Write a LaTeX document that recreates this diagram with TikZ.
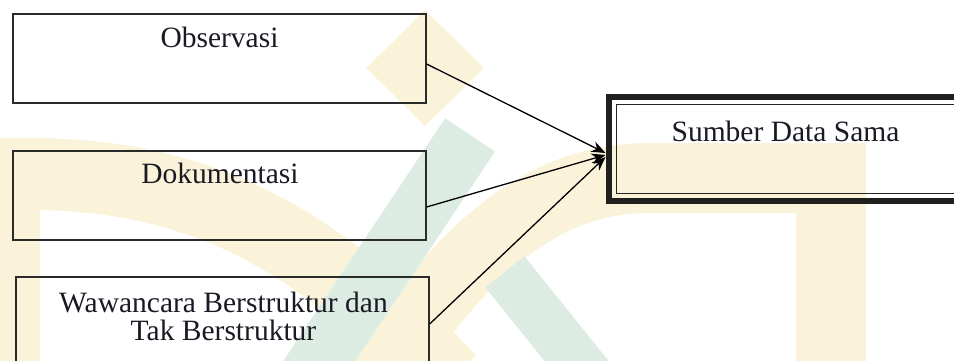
\documentclass[tikz,border=0pt]{standalone}
\usepackage{fontspec}
\setmainfont{Liberation Serif}
\usetikzlibrary{arrows.meta}
\definecolor{wmyellow}{HTML}{FAF3DA}
\definecolor{wmgreen}{HTML}{DDECE3}
\definecolor{boxline}{HTML}{2A2A2A}
\definecolor{txt}{HTML}{1A1A24}
\tikzset{
  srcbox/.style={draw=boxline, line width=1.3pt, rectangle, minimum width=413pt, minimum height=89pt, inner sep=0pt},
  lbl/.style={font=\fontsize{29.5}{28}\selectfont, text=txt, anchor=base, align=center, inner sep=0pt},
  conn/.style={line width=1.3pt, -{Stealth[length=14pt,width=11pt]}},
  wm/.style={line cap=butt, line join=miter}
}
\begin{document}
\begin{tikzpicture}[x=1pt,y=-1pt]
\useasboundingbox (0,0) rectangle (954,361);
\clip (0,0) rectangle (954,361);
\fill[white] (0,0) rectangle (954,361);
% watermark
\fill[wmyellow] (425,10) -- (484,68) -- (425,126) -- (366,68) -- cycle;
\draw[wm, wmyellow, line width=72pt] (4,420) -- (4,174) .. controls (180,170) and (300,220) .. (450,380);
\draw[wm, wmyellow, line width=70pt] (831,420) -- (831,178) -- (650,178) .. controls (540,178) and (460,250) .. (370,390);
\draw[wm, wmgreen, line width=60pt] (300,390) -- (470,135);
\draw[wm, wmgreen, line width=50pt] (505,272) -- (600,390);
% boxes
\node[srcbox] (obs) at (219.5,58.5) {};
\node[srcbox] (dok) at (219.5,195.5) {};
\node[srcbox] (waw) at (222.5,321.5) {};
\node[lbl] (tobs) at (219.5,48) {Observasi};
\node[lbl] (tdok) at (220,183) {Dokumentasi};
\node[lbl] (twaw) at (223.5,340) {Wawancara Berstruktur dan\\Tak Berstruktur};
% target box
\node[draw=black!88, line width=6pt, rectangle, minimum width=363pt, minimum height=104pt, inner sep=0pt] (sumber) at (790,149) {};
\draw[black!85, line width=1pt] ([shift={(11pt,-11pt)}]sumber.north west) rectangle ([shift={(-11pt,11pt)}]sumber.south east);
\node[lbl] (tsum) at (785.5,142) {Sumber Data Sama};
% connectors
\draw[conn] ([yshift=-5.5pt]obs.east) -- ([yshift=-4pt]sumber.west);
\draw[conn] ([yshift=-11.5pt]dok.east) -- ([yshift=-6pt]sumber.west);
\draw[conn] ([yshift=-2.5pt]waw.east) -- ([yshift=-8pt]sumber.west);
\end{tikzpicture}
\end{document}
